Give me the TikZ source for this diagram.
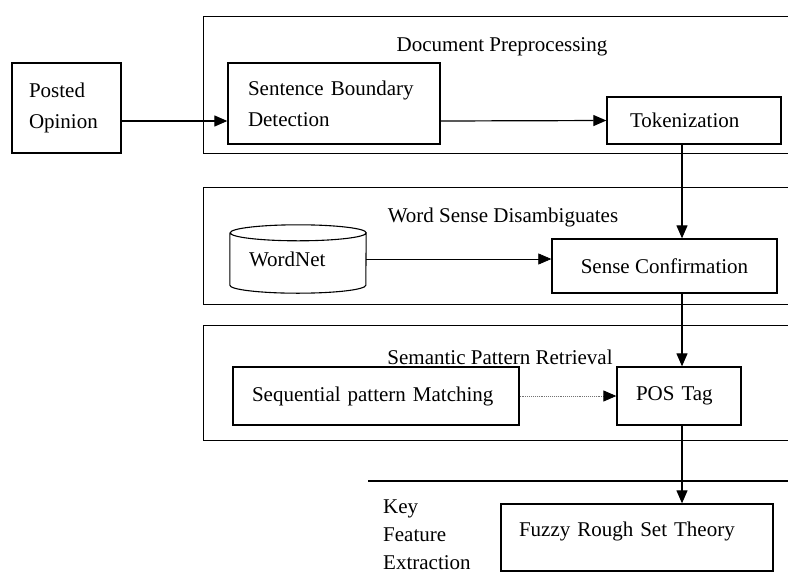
\documentclass[tikz,border=0pt]{standalone}
\usepackage{fontspec}
\setmainfont{Liberation Serif}
\usetikzlibrary{arrows.meta,calc,positioning}

\begin{document}
\begin{tikzpicture}[
    x=1pt,y=-1pt,
    every node/.style={font=\fontsize{21}{31}\selectfont},
    frame/.style={
        draw=black,
        line width=1.3pt,
        minimum width=600pt,
        anchor=north west,
        inner sep=0pt
    },
    box/.style={
        draw=black,
        line width=1.3pt,
        inner ysep=0pt,
        align=left
    },
    store/.style={
        minimum width=136pt,
        minimum height=68pt,
        text width=98pt,
        inner xsep=19pt,
        align=left
    },
    heading/.style={inner sep=0pt},
    arrow/.style={-{Triangle[length=13pt,width=11pt]},line width=1.2pt},
    thinarrow/.style={arrow,line width=0.7pt},
    dotarrow/.style={-{Triangle[length=13pt,width=11pt,color=black]},line width=0.9pt,densely dotted,draw=black!55}
]
\useasboundingbox (0,0) rectangle (788,587);

% Stage frames
\node[frame, minimum height=137pt] (prep) at (203,16) {};
\node[frame, minimum height=117pt] (wsd) at (203,187) {};
\node[frame, minimum height=115pt] (spr) at (203,325) {};
\coordinate (kfetop) at (368,481);
\draw[line width=1.3pt] (kfetop) -- ++(440,0);

% Stage headings
\node[heading] (prephead) at (502,47) {Document Preprocessing};
\node[heading] (wsdhead) at (503,217) {Word Sense Disambiguates};
\node[heading] (sprhead) at (500,357) {Semantic Pattern Retrieval};
\node[heading, anchor=west, align=left, font=\fontsize{21}{28}\selectfont] (kfe) at (383,535)
{Key\\Feature\\Extraction};

% Steps
\node[box, minimum width=109pt, minimum height=90pt, text width=75pt, inner xsep=17pt] (posted) at (66.5,108)
{Posted\\Opinion};

\node[box, minimum width=212pt, minimum height=81pt, text width=172pt, inner xsep=20pt] (sbd) at (334,103.5)
{Sentence Boundary\\Detection};

\node[box, minimum width=174pt, minimum height=47pt, text width=128pt, inner xsep=23pt] (tok) at (694,120.5)
{Tokenization};

\node[store] (wordnet) at (298,259) {WordNet};
\draw[line width=1.1pt] ([yshift=-8pt]wordnet.north west) -- ([yshift=8pt]wordnet.south west)
    arc[start angle=180,end angle=360,x radius=68pt,y radius=8pt]
    -- ([yshift=-8pt]wordnet.north east)
    arc[start angle=0,end angle=360,x radius=68pt,y radius=8pt];

\node[box, minimum width=225pt, minimum height=54pt] (sense) at (664.5,266)
{Sense Confirmation};

\node[box, minimum width=286pt, minimum height=58pt, text width=248pt, inner xsep=19pt] (seq) at (376,396)
{Sequential pattern Matching};

\node[box, minimum width=124pt, minimum height=58pt, text width=86pt, inner xsep=19pt] (pos) at (679,396)
{POS Tag};

\node[box, minimum width=272pt, minimum height=67pt, text width=236pt, inner xsep=18pt, text depth=17pt] (fuzzy) at (637,537.5)
{Fuzzy Rough Set Theory};

% Flow
\coordinate (spine) at (682,0);
\draw[arrow] ([yshift=-13pt]posted.east) -- ([yshift=-17.5pt]sbd.west);
\draw[arrow] ([yshift=-17.5pt]sbd.east) -- (tok.west);
\draw[arrow] (tok.south -| spine) -- (sense.north -| spine);
\draw[thinarrow] (wordnet.east) -- (wordnet.east -| sense.west);
\draw[arrow] (sense.south -| spine) -- (pos.north -| spine);
\draw[dotarrow] (seq) -- (pos);
\draw[arrow] (pos.south -| spine) -- (fuzzy.north -| spine);

\end{tikzpicture}
\end{document}
